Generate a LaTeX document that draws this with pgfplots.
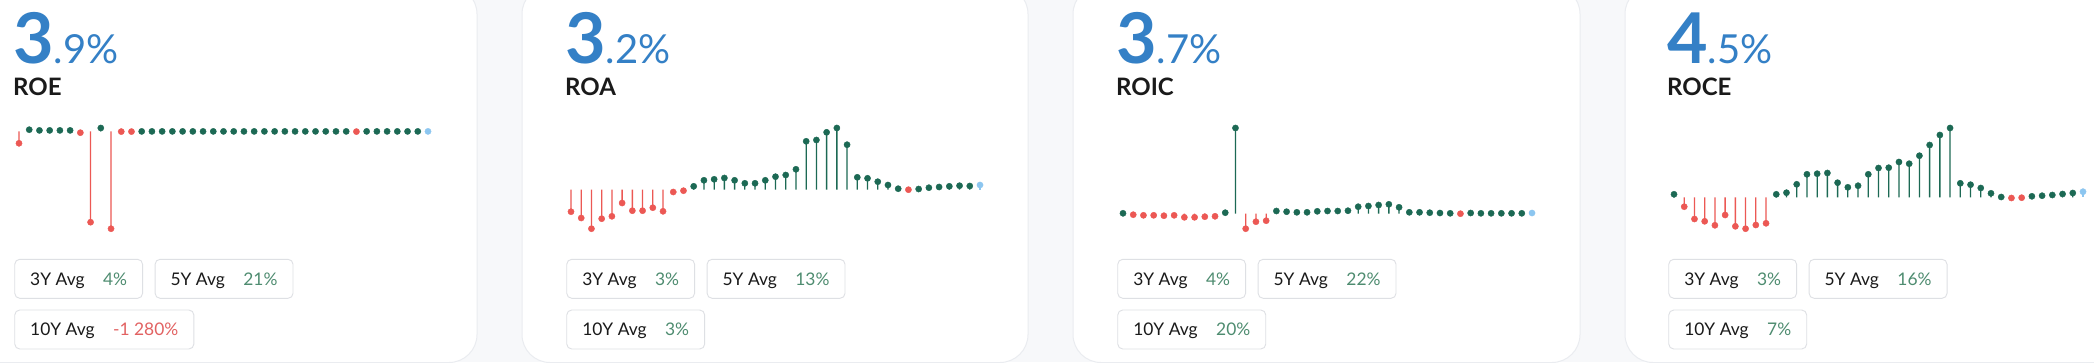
\documentclass[border=0pt]{standalone}
\usepackage{fontspec}
\setmainfont{Lato}
\usepackage{pgfplots}
\pgfplotsset{compat=1.18}

\definecolor{bg}{RGB}{247,248,250}
\definecolor{cardborder}{RGB}{234,236,240}
\definecolor{numblue}{RGB}{52,128,198}
\definecolor{labelc}{RGB}{26,26,26}
\definecolor{boxc}{RGB}{222,224,228}
\definecolor{valgreen}{RGB}{78,140,112}
\definecolor{valred}{RGB}{226,98,98}
\definecolor{pos}{RGB}{28,105,84}
\definecolor{neg}{RGB}{236,88,84}
\definecolor{last}{RGB}{140,198,240}

\pgfplotsset{
  lolli/.style={scale only axis, width=409pt, height=100.7pt, xmin=0, xmax=40,
    hide axis, clip=false, anchor=south west},
  stem/.style={ybar, bar width=1.3pt, bar shift=0pt, draw=none, fill=#1, forget plot},
  dot/.style={only marks, mark=*, color=#1, fill=#1, mark size=3.1pt, mark options={solid, line width=0.4pt}},
}

\tikzset{avgbox/.style={draw=boxc, line width=0.9pt, rounded corners=5pt, fill=white,
  minimum height=39pt, inner xsep=15.5pt, inner ysep=0pt, text height=12.8pt, text depth=0pt,
  font=\fontsize{17.4}{17.4}\selectfont, text=labelc}}

\newcommand\gv[1]{\textcolor{valgreen}{#1}}
\newcommand\rv[1]{\textcolor{valred}{#1}}

\newcommand\cardtext[7]{%
\begin{scope}[xshift=#1pt]
\node[anchor=base west, inner sep=0pt, text=numblue] at (13pt,-63.3pt)
  {\fontsize{70}{70}\selectfont\bfseries #2\fontsize{40}{40}\selectfont\mdseries #3};
\node[anchor=base west, inner sep=0pt, text=labelc] at (13pt,-95.7pt)
  {\fontsize{24}{24}\selectfont\bfseries #4};
\node[avgbox, anchor=west] (b3) at (14.3pt,-278.8pt) {3Y Avg\hspace{18.5pt}#5};
\node[avgbox, anchor=west] at ([xshift=11.6pt]b3.east) {5Y Avg\hspace{18.5pt}#6};
\node[avgbox, anchor=west] at (14.3pt,-329.5pt) {10Y Avg\hspace{18.5pt}#7};
\end{scope}}

\begin{document}
\begin{tikzpicture}
\path[use as bounding box] (0pt,0pt) rectangle (2094pt,-362pt);
\clip (0pt,0pt) rectangle (2094pt,-362pt);
\fill[bg] (0pt,0pt) rectangle (2094pt,-362pt);
\foreach \l/\r in {-29/477, 522/1028, 1073/1580, 1625/2131}{
  \draw[fill=white, draw=cardborder, line width=1pt, rounded corners=28pt]
    (\l pt,14pt) rectangle (\r pt,-362.5pt);
}

\cardtext{0}{3}{.9\%}{ROE}{\gv{4\%}}{\gv{21\%}}{\rv{-1 280\%}}
\cardtext{552}{3}{.2\%}{ROA}{\gv{3\%}}{\gv{13\%}}{\gv{3\%}}
\cardtext{1103}{3}{.7\%}{ROIC}{\gv{4\%}}{\gv{22\%}}{\gv{20\%}}
\cardtext{1654}{4}{.5\%}{ROCE}{\gv{3\%}}{\gv{16\%}}{\gv{7\%}}

% ROE
\begin{axis}[lolli, at={(19pt,-228.7pt)}, ymin=-97.2, ymax=3.5]
\addplot[stem=pos] coordinates {(1,1.8)(2,1.1)(3,1.1)(4,1.1)(5,1.1)(8,3.5)
 (12,0.1)(13,0.1)(14,0.1)(15,0.1)(16,0.1)(17,0.1)(18,0.1)(19,0.1)(20,0.1)(21,0.1)(22,0.1)
 (23,0.1)(24,0.1)(25,0.1)(26,0.1)(27,0.1)(28,0.1)(29,0.1)(30,0.1)(31,0.1)(32,0.1)
 (34,0.1)(35,0.1)(36,0.1)(37,0.1)(38,0.1)(39,0.1)};
\addplot[dot=pos] coordinates {(1,1.8)(2,1.1)(3,1.1)(4,1.1)(5,1.1)(8,3.5)
 (12,0.1)(13,0.1)(14,0.1)(15,0.1)(16,0.1)(17,0.1)(18,0.1)(19,0.1)(20,0.1)(21,0.1)(22,0.1)
 (23,0.1)(24,0.1)(25,0.1)(26,0.1)(27,0.1)(28,0.1)(29,0.1)(30,0.1)(31,0.1)(32,0.1)
 (34,0.1)(35,0.1)(36,0.1)(37,0.1)(38,0.1)(39,0.1)};
\addplot[stem=neg] coordinates {(0,-11.8)(6,-1.2)(7,-90.7)(9,-97.2)(10,-0.1)(11,-0.1)(33,-0.1)};
\addplot[dot=neg] coordinates {(0,-11.8)(6,-1.2)(7,-90.7)(9,-97.2)(10,-0.1)(11,-0.1)(33,-0.1)};
\addplot[stem=last] coordinates {(40,0.1)};
\addplot[dot=last] coordinates {(40,0.1)};
\end{axis}

% ROA
\begin{axis}[lolli, at={(571pt,-228.7pt)}, ymin=-39.2, ymax=61.5]
\addplot[stem=pos] coordinates {(12,3.2)(13,9.2)(14,10.2)(15,11.5)(16,9.2)(17,6.2)(18,6.2)(19,9.2)
 (20,12.8)(21,14.5)(22,20.2)(23,48.2)(24,49.5)(25,57.2)(26,61.5)(27,44.8)(28,12.2)(29,11.2)
 (30,7.8)(31,4.5)(32,0.8)(34,0.5)(35,1.8)(36,2.5)(37,3.2)(38,3.8)(39,3.5)};
\addplot[dot=pos] coordinates {(12,3.2)(13,9.2)(14,10.2)(15,11.5)(16,9.2)(17,6.2)(18,6.2)(19,9.2)
 (20,12.8)(21,14.5)(22,20.2)(23,48.2)(24,49.5)(25,57.2)(26,61.5)(27,44.8)(28,12.2)(29,11.2)
 (30,7.8)(31,4.5)(32,0.8)(34,0.5)(35,1.8)(36,2.5)(37,3.2)(38,3.8)(39,3.5)};
\addplot[stem=neg] coordinates {(0,-22.2)(1,-28.5)(2,-39.2)(3,-29.2)(4,-26.8)(5,-13.5)(6,-21.2)
 (7,-21.2)(8,-18.2)(9,-21.8)(10,-2.5)(11,-1.2)(33,-0.2)};
\addplot[dot=neg] coordinates {(0,-22.2)(1,-28.5)(2,-39.2)(3,-29.2)(4,-26.8)(5,-13.5)(6,-21.2)
 (7,-21.2)(8,-18.2)(9,-21.8)(10,-2.5)(11,-1.2)(33,-0.2)};
\addplot[stem=last] coordinates {(40,4.5)};
\addplot[dot=last] coordinates {(40,4.5)};
\end{axis}

% ROIC
\begin{axis}[lolli, at={(1123pt,-228.7pt)}, ymin=-15.2, ymax=85.5]
\addplot[stem=pos] coordinates {(0,0.2)(10,0.8)(11,85.5)(15,2.5)(16,1.8)(17,1.2)(18,1.2)(19,2.2)
 (20,2.5)(21,2.5)(22,2.8)(23,6.8)(24,7.5)(25,8.5)(26,9.2)(27,6.2)(28,1.2)(29,1.2)(30,0.8)
 (31,0.5)(32,0.2)(34,0.5)(35,0.2)(36,0.2)(37,0.2)(38,0.2)(39,0.2)};
\addplot[dot=pos] coordinates {(0,0.2)(10,0.8)(11,85.5)(15,2.5)(16,1.8)(17,1.2)(18,1.2)(19,2.2)
 (20,2.5)(21,2.5)(22,2.8)(23,6.8)(24,7.5)(25,8.5)(26,9.2)(27,6.2)(28,1.2)(29,1.2)(30,0.8)
 (31,0.5)(32,0.2)(34,0.5)(35,0.2)(36,0.2)(37,0.2)(38,0.2)(39,0.2)};
\addplot[stem=neg] coordinates {(1,-1.2)(2,-1.8)(3,-1.8)(4,-2.2)(5,-1.8)(6,-3.8)(7,-3.8)(8,-3.2)
 (9,-2.8)(12,-15.2)(13,-8.2)(14,-7.2)(33,-0.2)};
\addplot[dot=neg] coordinates {(1,-1.2)(2,-1.8)(3,-1.8)(4,-2.2)(5,-1.8)(6,-3.8)(7,-3.8)(8,-3.2)
 (9,-2.8)(12,-15.2)(13,-8.2)(14,-7.2)(33,-0.2)};
\addplot[stem=last] coordinates {(40,0.5)};
\addplot[dot=last] coordinates {(40,0.5)};
\end{axis}

% ROCE
\begin{axis}[lolli, at={(1674pt,-228.7pt)}, ymin=-31.4, ymax=69.3]
\addplot[stem=pos] coordinates {(0,3)(10,3)(11,4.6)(12,13)(13,23)(14,23.6)(15,24.3)(16,14.6)(17,10)
 (18,11.6)(19,23)(20,29.3)(21,29.6)(22,35.3)(23,33.6)(24,41.6)(25,52.3)(26,62.3)(27,69.3)(28,14)
 (29,12.6)(30,9.3)(31,4)(32,0.3)(35,1)(36,1.6)(37,2.3)(38,3.3)(39,4.3)};
\addplot[dot=pos] coordinates {(0,3)(10,3)(11,4.6)(12,13)(13,23)(14,23.6)(15,24.3)(16,14.6)(17,10)
 (18,11.6)(19,23)(20,29.3)(21,29.6)(22,35.3)(23,33.6)(24,41.6)(25,52.3)(26,62.3)(27,69.3)(28,14)
 (29,12.6)(30,9.3)(31,4)(32,0.3)(35,1)(36,1.6)(37,2.3)(38,3.3)(39,4.3)};
\addplot[stem=neg] coordinates {(1,-9.4)(2,-21.7)(3,-24)(4,-28)(5,-17.7)(6,-29)(7,-31.4)(8,-27.7)
 (9,-26)(33,-0.7)(34,-0.4)};
\addplot[dot=neg] coordinates {(1,-9.4)(2,-21.7)(3,-24)(4,-28)(5,-17.7)(6,-29)(7,-31.4)(8,-27.7)
 (9,-26)(33,-0.7)(34,-0.4)};
\addplot[stem=last] coordinates {(40,5.6)};
\addplot[dot=last] coordinates {(40,5.6)};
\end{axis}
\end{tikzpicture}
\end{document}
